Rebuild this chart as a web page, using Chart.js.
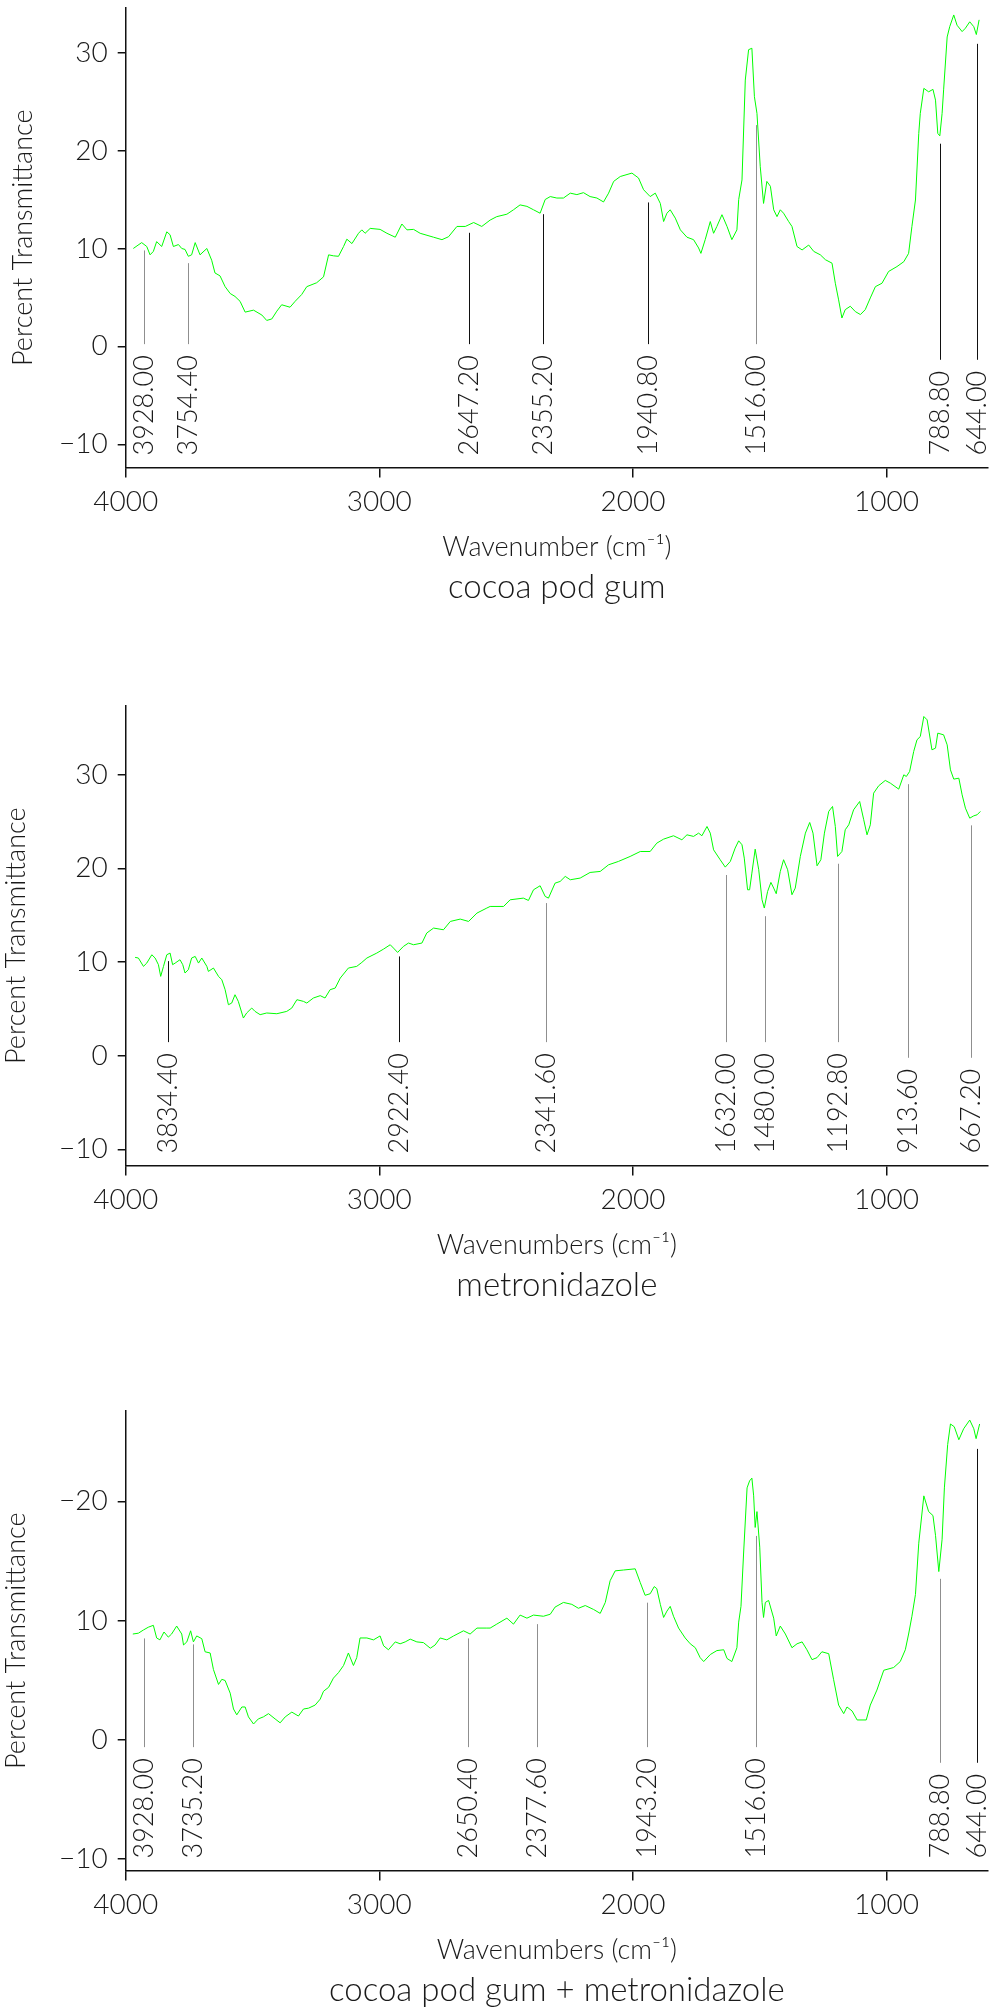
<!DOCTYPE html>
<html>
<head>
<meta charset="utf-8">
<title>FTIR spectra</title>
<script src="https://cdn.jsdelivr.net/npm/chart.js@4.4.1/dist/chart.umd.min.js"></script>
<style>
  html, body { margin: 0; padding: 0; background: #fff; overflow: hidden; }
  .panel { position: absolute; left: 0; width: 992px; height: 611px; }
</style>
</head>
<body>
<div class="panel" style="top:0"><canvas id="gumChart"></canvas></div>
<div class="panel" style="top:698px"><canvas id="metroChart"></canvas></div>
<div class="panel" style="top:1403px"><canvas id="mixChart"></canvas></div>
<script>
"use strict";

/*----------------------------------------*/
/*  data
/*----------------------------------------*/
const xTickValues = [4000, 3000, 2000, 1000];
const xTickLabels = ["4000", "3000", "2000", "1000"];

// cocoa pod gum
const gumWn = [3970,3937,3917,3904,3891,3878,3858,3838,3825,3812,3792,3779,3766,3753,3740,3726,3707,3680,3661,3648,
  3628,3608,3588,3569,3549,3529,3496,3463,3444,3424,3404,3385,3352,3332,3306,3286,3247,3220,3200,3181,
  3161,3141,3128,3108,3082,3069,3056,3036,2997,2970,2937,2911,2891,2865,2839,2786,2753,2727,2694,2661,
  2628,2596,2563,2537,2497,2471,2445,2418,2392,2366,2346,2326,2300,2274,2247,2221,2195,2169,2142,2116,
  2096,2076,2050,2004,1978,1958,1932,1912,1892,1879,1866,1853,1833,1813,1787,1761,1741,1732,1715,1695,
  1682,1669,1649,1629,1610,1590,1583,1570,1557,1544,1531,1521,1511,1498,1485,1472,1458,1445,1432,1419,
  1406,1386,1373,1353,1333,1307,1287,1261,1241,1215,1202,1189,1176,1163,1143,1123,1103,1084,1064,1044,
  1018,992,959,932,913,900,886,873,867,853,834,817,807,798,790,781,775,761,751,735,722,702,689,672,656,646,635];
const gumT = [10.0,10.6,10.2,9.35,9.7,10.7,10.2,11.7,11.4,10.2,10.4,10.0,9.9,9.2,9.35,10.6,9.35,10.0,8.8,7.5,
  7.2,6.1,5.4,5.1,4.6,3.5,3.7,3.2,2.65,2.8,3.6,4.25,4.0,4.6,5.3,6.1,6.5,7.1,9.35,9.25,
  9.2,10.2,10.95,10.5,11.55,11.9,11.55,12.05,11.95,11.55,11.15,12.5,11.9,11.95,11.55,11.15,10.9,11.2,12.25,12.25,
  12.65,12.25,12.9,13.25,13.5,13.95,14.45,14.3,13.95,13.6,15.0,15.3,15.15,15.15,15.65,15.5,15.7,15.3,15.15,14.75,
  15.65,16.85,17.35,17.7,17.2,16.0,15.3,15.65,14.6,12.75,13.6,13.95,13.1,11.9,11.15,10.9,10.05,9.5,10.9,12.75,
  11.55,12.25,13.45,12.25,10.9,11.9,15.0,17.0,27.2,30.3,30.45,25.5,23.8,18.35,14.6,16.85,16.35,13.95,13.25,13.95,
  13.6,12.75,12.25,10.2,9.85,10.35,9.7,9.35,8.85,8.5,6.45,4.75,2.9,3.75,4.1,3.55,3.25,3.75,4.95,6.1,
  6.45,7.65,8.15,8.65,9.5,12.25,14.95,21.75,23.8,26.35,26.0,26.25,25.15,21.75,21.5,23.8,26.2,31.6,32.65,33.85,32.8,32.15,32.5,33.15,32.65,31.85,33.35];
const gumPeaks = [3928.0, 3754.4, 2647.2, 2355.2, 1940.8, 1516.0, 788.8, 644.0];
const gumPeakTop = [9.8, 8.5, 11.6, 13.5, 14.7, 22.6, 20.7, 30.9];
const gumPeakDark = [false, false, true, true, true, false, true, true];
const gumYTicks = [-10, 0, 10, 20, 30];
const gumYTickLabels = ["\u221210", "0", "10", "20", "30"];

// metronidazole
const metroWn = [3963,3950,3930,3917,3897,3884,3871,3862,3851,3838,3825,3815,3805,3786,3775,3766,3753,3740,3726,3713,
  3700,3680,3674,3654,3634,3621,3608,3595,3582,3569,3556,3536,3523,3503,3490,3470,3444,3404,3365,3345,
  3325,3299,3286,3260,3233,3214,3194,3174,3154,3122,3089,3069,3049,3010,2983,2957,2944,2928,2905,2885,
  2865,2832,2813,2786,2747,2720,2681,2648,2615,2576,
  2563,2510,2484,2432,2412,2392,2366,2346,2333,2307,2287,2267,2247,2208,2169,2129,2096,2057,2011,1971,
  1932,1906,1879,1840,1807,1787,1761,1741,1728,1708,1695,1682,1656,1636,1616,1597,1583,1570,1561,1548,
  1540,1531,1518,1504,1491,1482,1469,1456,1445,1435,1419,1406,1390,1373,1360,1340,1320,1303,1290,1274,
  1259,1245,1228,1213,1202,1193,1176,1163,1149,1130,1106,1090,1077,1064,1051,1031,1005,985,952,932,
  922,909,893,880,867,853,840,821,807,798,775,761,748,735,715,702,689,672,656,643,630];
const metroT = [10.5,10.43,9.54,9.89,10.78,10.43,9.72,8.47,9.54,10.78,10.96,9.72,9.89,10.25,9.72,8.83,9.18,10.43,10.6,9.89,
  10.43,9.54,9.0,9.36,8.47,8.11,7.05,5.44,5.62,6.51,5.8,4.02,4.56,5.09,4.73,4.38,4.56,4.48,4.73,5.09,
  5.98,5.8,5.62,6.16,6.41,6.16,7.05,7.22,8.29,9.36,9.54,9.96,10.43,10.96,11.39,11.85,11.49,11.03,11.67,12.03,
  11.85,12.03,13.1,13.63,13.45,14.34,14.59,14.34,15.23,15.77,
  15.94,15.94,16.65,16.83,16.58,17.72,18.15,17.01,16.83,18.43,18.61,19.15,18.79,18.97,19.57,19.68,20.39,20.75,21.28,21.81,
  21.81,22.7,23.13,23.49,23.06,23.59,23.42,23.77,23.49,24.48,23.77,21.99,20.93,20.14,20.75,22.17,22.95,22.53,21.1,17.72,
  17.72,19.5,22.06,19.86,16.65,15.77,17.54,18.51,17.9,17.3,19.68,20.93,19.86,17.19,17.9,21.28,23.77,24.91,23.77,20.28,
  20.93,23.77,26.09,26.62,24.48,21.28,21.81,24.13,24.66,26.26,27.15,25.2,23.59,24.66,28.04,28.83,29.4,29.11,28.47,30.0,
  29.82,30.36,32.49,33.74,34.09,36.23,35.87,32.67,32.85,34.45,34.27,33.2,30.53,29.54,29.64,27.86,26.44,25.37,25.62,25.73,26.09];
const metroPeaks = [3834.4, 2922.4, 2341.6, 1632.0, 1480.0, 1192.8, 913.6, 667.2];
const metroPeakTop = [10.1, 10.6, 16.3, 19.3, 14.9, 20.5, 29.0, 24.6];
const metroPeakDark = [true, true, false, false, false, false, false, false];
const metroYTicks = [-10, 0, 10, 20, 30];
const metroYTickLabels = ["\u221210", "0", "10", "20", "30"];

// cocoa pod gum + metronidazole
const mixWn = [3972,3950,3930,3911,3891,3878,3865,3849,3832,3819,3799,3779,3772,3759,3744,3733,3720,3700,3687,3667,
  3654,3634,3621,3608,3588,3575,3562,3542,3529,3516,3496,3477,3457,3437,3411,3391,3371,3345,3319,3299,
  3279,3253,3233,3220,3200,3181,3161,3141,3122,3102,3089,3076,3049,3023,2997,2983,2964,2937,2918,2898,
  2878,2852,2826,2799,2780,2760,2734,2707,2668,2642,2615,2576,
  2563,2537,2497,2471,2445,2418,2392,2353,2326,2307,2274,2241,2215,2188,2155,2129,2109,2090,2070,2037,
  1991,1971,1952,1932,1916,1906,1892,1879,1866,1853,1840,1820,1794,1774,1754,1735,1721,1695,1669,1642,
  1629,1610,1590,1583,1574,1564,1550,1540,1531,1524,1518,1511,1500,1491,1485,1478,1465,1445,1435,1419,
  1399,1373,1353,1333,1314,1294,1274,1255,1228,1209,1189,1169,1156,1136,1116,1080,1064,1038,1011,972,
  946,926,913,900,886,873,853,834,817,807,794,781,772,759,748,733,715,696,672,656,647,633];
const mixT = [8.87,8.94,9.21,9.44,9.6,8.54,8.38,9.04,8.61,8.87,9.54,8.87,7.95,8.21,9.14,8.21,8.71,8.48,7.38,7.28,
  5.89,4.64,5.07,4.97,3.91,2.58,2.09,2.75,2.75,1.92,1.32,1.75,1.92,2.19,1.75,1.42,1.92,2.32,1.99,2.58,
  2.65,2.91,3.41,4.07,4.4,5.17,5.63,6.23,7.28,6.23,6.89,8.54,8.54,8.38,8.71,7.88,7.55,8.21,8.05,8.21,
  8.44,8.21,8.15,7.68,7.95,8.54,8.38,8.71,9.14,8.87,9.37,9.37,
  9.37,9.7,10.2,9.7,10.46,10.2,10.46,10.36,10.53,11.13,11.52,11.36,11.03,11.26,10.93,10.6,11.52,13.34,14.17,14.24,
  14.34,13.18,12.12,12.25,12.85,12.68,11.36,10.26,10.79,11.19,10.36,9.37,8.54,8.05,7.72,6.89,6.56,7.15,7.48,7.55,
  6.82,6.56,7.72,9.87,11.19,15.5,21.13,21.72,21.95,20.46,17.81,19.14,16.16,11.52,10.26,11.52,11.69,10.2,8.71,9.54,
  8.87,7.72,8.05,8.21,7.55,6.72,6.89,7.38,7.22,5.07,2.91,2.19,2.75,2.42,1.66,1.66,2.91,4.17,5.83,6.06,
  6.56,7.55,8.87,10.36,12.19,16.49,20.46,19.14,18.81,17.15,14.11,16.82,21.13,24.77,26.49,26.26,25.17,26.09,26.82,26.09,25.26,26.49];
const mixPeaks = [3928.0, 3735.2, 2650.4, 2377.6, 1943.2, 1516.0, 788.8, 644.0];
const mixPeakTop = [8.5, 8.0, 8.5, 9.7, 11.5, 17.1, 13.5, 24.4];
const mixPeakDark = [false, false, false, false, false, false, false, true];
const mixYTicks = [-10, 0, 10, 20];
const mixYTickLabels = ["\u221210", "0", "10", "\u221220"];

/*----------------------------------------*/
/*  peak markers: vertical line + rotated wavenumber
/*----------------------------------------*/
const peakLabels = {
  id: "peakLabels",
  afterDatasetsDraw(chart, args, opts) {
    const ctx = chart.ctx;
    const area = chart.chartArea;
    const x = chart.scales.x, y = chart.scales.y;
    ctx.save();
    ctx.font = "300 27px Lato";
    for (let i = 0; i < opts.peaks.length; i++) {
      const text = opts.peaks[i].toFixed(2);
      const px = Math.round(x.getPixelForValue(opts.peaks[i])) + 0.5;
      const start = area.bottom - 12;
      const len = ctx.measureText(text).width;
      ctx.strokeStyle = opts.dark[i] ? "#111" : "#8f8f8f";
      ctx.lineWidth = 1;
      ctx.beginPath();
      ctx.moveTo(px, y.getPixelForValue(opts.tops[i]));
      ctx.lineTo(px, start - len - 11);
      ctx.stroke();

      ctx.save();
      ctx.translate(px, start);
      ctx.rotate(-Math.PI / 2);
      ctx.fillStyle = "#1a1a1a";
      ctx.textAlign = "left";
      ctx.textBaseline = "middle";
      ctx.fillText(text, 0, 0);
      ctx.restore();
    }
    ctx.restore();
  }
};

const font = (size) => ({ family: "Lato", size: size, weight: "300" });

function spectrum(id, wn, tr, yMin, yMax, yTicks, yTickLabels, peaks, tops, dark, xTitle, sub, yTitlePad) {
  new Chart(document.getElementById(id), {
    type: "line",
    data: {
      datasets: [{
        data: wn.map((w, i) => ({ x: w, y: tr[i] })),
        borderColor: "#00ff00",
        borderWidth: 1,
        pointRadius: 0,
        tension: 0,
        fill: false
      }]
    },
    options: {
      responsive: true,
      maintainAspectRatio: false,
      animation: false,
      devicePixelRatio: 1,
      layout: { padding: { left: 0, right: 4, top: 8, bottom: 0 } },
      scales: {
        x: {
          type: "linear",
          reverse: true,
          min: 600,
          max: 4000,
          afterFit: (s) => { s.height = 100; s.paddingLeft = 0; s.paddingRight = 0; },
          afterBuildTicks: (s) => { s.ticks = xTickValues.map(v => ({ value: v })); },
          border: { display: true, color: "#111", width: 1.5 },
          grid: { drawOnChartArea: false, drawTicks: true, tickLength: 10, color: "#111", lineWidth: 1.5 },
          ticks: {
            color: "#1a1a1a", font: font(28), padding: 8, maxRotation: 0, autoSkip: false,
            callback: (v) => xTickLabels[xTickValues.indexOf(v)]
          },
          title: { display: true, text: xTitle, color: "#1a1a1a", font: font(27), padding: { top: 0, bottom: 4 } }
        },
        y: {
          type: "linear",
          min: yMin,
          max: yMax,
          afterFit: (s) => { s.width = 125.7; s.paddingTop = 0; s.paddingBottom = 0; },
          afterBuildTicks: (s) => { s.ticks = yTicks.map(v => ({ value: v })); },
          border: { display: true, color: "#111", width: 1.5 },
          grid: { drawOnChartArea: false, drawTicks: true, tickLength: 8, color: "#111", lineWidth: 1.5 },
          ticks: {
            color: "#1a1a1a", font: font(28), padding: 10,
            callback: (v) => yTickLabels[yTicks.indexOf(v)]
          },
          title: { display: true, text: "Percent Transmittance", color: "#1a1a1a", font: font(27), padding: { top: yTitlePad, bottom: 0 } }
        }
      },
      plugins: {
        legend: { display: false },
        tooltip: { enabled: false },
        title: {
          display: true, text: sub, position: "bottom", fullSize: false,
          color: "#1a1a1a", font: font(33), padding: { top: 0, bottom: 4 }
        },
        peakLabels: { peaks: peaks, tops: tops, dark: dark }
      }
    },
    plugins: [peakLabels]
  });
}

spectrum("gumChart", gumWn, gumT, -12.36, 34.56, gumYTicks, gumYTickLabels,
  gumPeaks, gumPeakTop, gumPeakDark, "Wavenumber (cm\u207B\u00B9)", "cocoa pod gum", 7);
spectrum("metroChart", metroWn, metroT, -11.72, 37.35, metroYTicks, metroYTickLabels,
  metroPeaks, metroPeakTop, metroPeakDark, "Wavenumbers (cm\u207B\u00B9)", "metronidazole", 0);
spectrum("mixChart", mixWn, mixT, -10.96, 27.58, mixYTicks, mixYTickLabels,
  mixPeaks, mixPeakTop, mixPeakDark, "Wavenumbers (cm\u207B\u00B9)", "cocoa pod gum + metronidazole", 0);
</script>
</body>
</html>
